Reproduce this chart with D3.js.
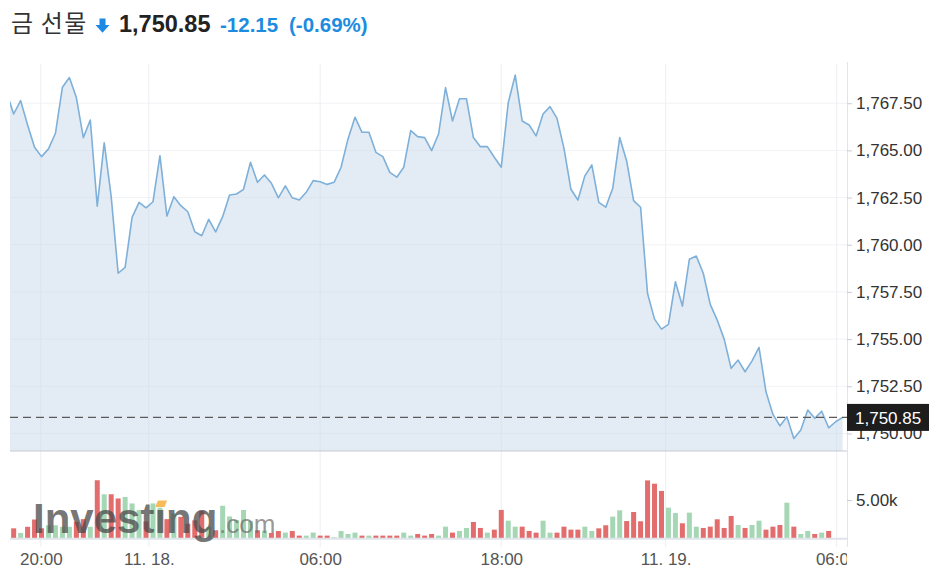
<!DOCTYPE html>
<html>
<head>
<meta charset="utf-8">
<script src="https://cdn.jsdelivr.net/npm/d3@7"></script>
<style>
  body { margin: 0; background: #fff; }
  svg { display: block; font-family: "Liberation Sans", Arial, sans-serif; }
</style>
</head>
<body>
<svg id="chart" width="938" height="577"></svg>
<script>
// 15 min closes, first point sits just left of the visible plot
var prices = [
  1768.05, 1766.93, 1767.64, 1766.35, 1765.17, 1764.67, 1765.08, 1765.91, 1768.35, 1768.86,
  1767.80, 1765.68, 1766.61, 1762.05, 1765.41, 1762.55, 1758.49, 1758.80, 1761.45, 1762.25,
  1761.96, 1762.28, 1764.72, 1761.52, 1762.55, 1762.07, 1761.75, 1760.69, 1760.48, 1761.35,
  1760.68, 1761.49, 1762.64, 1762.69, 1762.94, 1764.37, 1763.31, 1763.70, 1763.26, 1762.49,
  1763.12, 1762.49, 1762.37, 1762.78, 1763.40, 1763.34, 1763.20, 1763.31, 1764.11, 1765.61,
  1766.76, 1765.96, 1765.96, 1764.90, 1764.67, 1763.84, 1763.58, 1764.11, 1766.05, 1765.73,
  1765.68, 1764.99, 1765.87, 1768.33, 1766.56, 1767.74, 1767.74, 1765.68, 1765.20, 1765.20,
  1764.64, 1764.11, 1767.53, 1768.99, 1766.56, 1766.35, 1765.77, 1766.93, 1767.32, 1766.70,
  1765.11, 1762.94, 1762.37, 1763.65, 1764.23, 1762.25, 1761.99, 1762.99, 1765.68, 1764.44,
  1762.34, 1761.99, 1757.42, 1756.06, 1755.53, 1755.78, 1758.04, 1756.75, 1759.23, 1759.40,
  1758.49, 1756.84, 1756.01, 1755.00, 1753.45, 1753.89, 1753.27, 1753.85, 1754.56, 1752.21,
  1751.01, 1750.40, 1750.88, 1749.73, 1750.18, 1751.24, 1750.80, 1751.18, 1750.30, 1750.62,
  1750.85
];

// volume per bar, null where no bar is drawn
var volumes = [
  null, 1300, 700, 1500, 2450, 1300, 1700, 1700, 1500, 1500,
  2150, 2500, 1500, 7580, 5750, 5750, 5200, 5400, 4550, 3680,
  2200, 4550, 4000, 2500, 3250, 2800, 1900, 2350, 3600, 1500,
  1050, 4250, 2850, 2400, 3700, 2250, 1050, 1000, 700, 950,
  750, 950, 350, 350, 750, 350, 350, 130, 950, 560,
  740, 350, 350, 350, 350, 350, 350, 740, 350, 560,
  350, 560, 350, 1520, 740, 960, 1350, 2130, 1350, 740,
  1130, 3700, 2300, 1520, 1520, 960, 740, 2300, 740, 740,
  1520, 1130, 1130, 1520, 960, 1300, 1700, 2830, 3650, 2250,
  3430, 2220, 7560, 7130, 6180, 4000, 3300, 1960, 3350, 1520,
  1350, 1520, 2480, 1350, 2915, 1740, 1350, 1740, 2300, 1130,
  1520, 1740, 4650, 1520, 565, 960, 565, 740, 960, null,
  null
];

var xTickIdx = [4.9, 20.4, 45, 71, 94.6, 119.15];
var xTickLabels = ["20:00", "11. 18.", "06:00", "18:00", "11. 19.", "06:00"];
var yTicks = [1750, 1752.5, 1755, 1757.5, 1760, 1762.5, 1765, 1767.5];
var volTicks = [5000];

var title = "금 선물";
var lastPrice = 1750.85;
var change = -12.15;
var changePct = -0.69;

var left = 10, right = 847,
  priceTop = 64, priceBottom = 451,
  volBase = 538.3;

var svg = d3.select("#chart");
svg.append("rect").attr("width", 938).attr("height", 577).attr("fill", "#fff");

var x = d3.scaleLinear().domain([0, prices.length - 1]).range([6.7, 842.6]);
var y = d3.scaleLinear().domain([1749.07, 1769.58]).range([priceBottom, priceTop]);
var yVol = d3.scaleLinear().domain([0, 5000]).range([volBase, 500]);

// plain hyphen for negatives, like the site
var locale = d3.formatLocale({
  decimal: ".",
  thousands: ",",
  grouping: [3],
  currency: ["$", ""],
  minus: "-",
});
var fmt = locale.format(",.2f");
var fmt2 = locale.format(".2f");

// clip
var defs = svg.append("defs");
defs.append("clipPath").attr("id", "plotClip")
  .append("rect").attr("x", left).attr("y", priceTop)
  .attr("width", right - left).attr("height", priceBottom - priceTop);
defs.append("clipPath").attr("id", "volClip")
  .append("rect").attr("x", left).attr("y", priceBottom)
  .attr("width", right - left).attr("height", volBase - priceBottom);
// used inside the translated x axis group, so y starts at 0
defs.append("clipPath").attr("id", "xLabClip")
  .append("rect").attr("x", 0).attr("y", 0)
  .attr("width", right).attr("height", 577 - volBase);

// grid
svg.append("g")
  .selectAll("line")
  .data(yTicks)
  .enter()
  .append("line")
  .attr("x1", left)
  .attr("x2", right)
  .attr("y1", (d) => y(d))
  .attr("y2", (d) => y(d))
  .attr("stroke", "#f1f2f5");

svg.append("g")
  .selectAll("line")
  .data(xTickIdx)
  .enter()
  .append("line")
  .attr("x1", (d) => x(d))
  .attr("x2", (d) => x(d))
  .attr("y1", priceTop)
  .attr("y2", 547)
  .attr("stroke", "#eceef3");

// price area + line
var pts = prices.map((p, i) => ({ i: i, p: p }));
var area = d3.area().x((d) => x(d.i)).y0(priceBottom).y1((d) => y(d.p));
var line = d3.line().x((d) => x(d.i)).y((d) => y(d.p));

var plot = svg.append("g").attr("clip-path", "url(#plotClip)");
plot.append("path")
  .datum(pts)
  .attr("d", area)
  .attr("fill", "rgba(200,218,233,0.5)");
plot.append("path")
  .datum(pts)
  .attr("d", line)
  .attr("fill", "none")
  .attr("stroke", "#7eb0d9")
  .attr("stroke-width", 1.6)
  .attr("stroke-linejoin", "round");

// last price dashed line
svg.append("line")
  .attr("x1", left)
  .attr("x2", right)
  .attr("y1", y(lastPrice))
  .attr("y2", y(lastPrice))
  .attr("stroke", "#5a5a5a")
  .attr("stroke-width", 1.3)
  .attr("stroke-dasharray", "8,5");

// volume bars, colour from close vs previous close
var bars = volumes
  .map((v, i) => ({ i: i, v: v, up: i > 0 && prices[i] >= prices[i - 1] }))
  .filter((d) => d.v != null);

svg.append("g")
  .attr("clip-path", "url(#volClip)")
  .selectAll("rect")
  .data(bars)
  .enter()
  .append("rect")
  .attr("x", (d) => x(d.i) - 2.5)
  .attr("width", 5)
  .attr("y", (d) => yVol(d.v))
  .attr("height", (d) => volBase - yVol(d.v))
  .attr("fill", (d) => (d.up ? "#a6d7b5" : "#e36c6c"));

// panel lines
svg.append("line")
  .attr("x1", left).attr("x2", right)
  .attr("y1", priceBottom).attr("y2", priceBottom)
  .attr("stroke", "#c6cad3").attr("stroke-width", 1.2);
svg.append("line")
  .attr("x1", left).attr("x2", right)
  .attr("y1", volBase + 0.5).attr("y2", volBase + 0.5)
  .attr("stroke", "#dfe3ea").attr("stroke-width", 2);

// watermark
var wm = svg.append("g").attr("pointer-events", "none");
var wmText = wm.append("text")
  .attr("x", 33)
  .attr("y", 533)
  .attr("font-size", 42)
  .attr("font-weight", "bold")
  .attr("fill", "#4a4a4a")
  .attr("fill-opacity", 0.75)
  .text("Investıng");
wm.append("text")
  .attr("x", 219)
  .attr("y", 533)
  .attr("font-size", 26)
  .attr("fill", "#6a6a6a")
  .attr("fill-opacity", 0.7)
  .text(".com");
var iStart = wmText.node().getStartPositionOfChar(6).x;
var iEnd = wmText.node().getEndPositionOfChar(6).x;
wm.append("path")
  .attr("d", `M${iStart + 1},507 L${iStart + 3.5},500.5 L${iEnd + 1},500.5 L${iEnd - 1.5},507 Z`)
  .attr("fill", "#f7b445")
  .attr("fill-opacity", 0.9);

// right axis
svg.append("line")
  .attr("x1", right + 0.5).attr("x2", right + 0.5)
  .attr("y1", priceTop - 2).attr("y2", 547)
  .attr("stroke", "#e1e4ea");

var yAxis = svg.append("g")
  .attr("transform", `translate(${right},0)`)
  .call(d3.axisRight(y).tickValues(yTicks).tickSize(5).tickPadding(4).tickFormat(fmt));
var volAxis = svg.append("g")
  .attr("transform", `translate(${right},0)`)
  .call(d3.axisRight(yVol).tickValues(volTicks).tickSize(5).tickPadding(4)
    .tickFormat((d) => fmt2(d / 1000) + "k"));
[yAxis, volAxis].forEach(function (g) {
  g.select(".domain").remove();
  g.selectAll(".tick line").attr("stroke", "#c8ccd4");
  g.selectAll(".tick text")
    .attr("fill", "#333")
    .attr("font-size", 17)
    .attr("font-family", '"Liberation Sans", Arial, sans-serif');
});

// last price label (covers the 1,750.00 tick like the site does)
svg.append("rect")
  .attr("x", right)
  .attr("y", y(lastPrice) - 13.5)
  .attr("width", 82)
  .attr("height", 27)
  .attr("fill", "#1d1d1d");
svg.append("text")
  .attr("x", right + 8)
  .attr("y", y(lastPrice))
  .attr("dy", "0.36em")
  .attr("fill", "#fff")
  .attr("font-size", 17)
  .text(fmt(lastPrice));

// x axis
var xAxis = svg.append("g")
  .attr("transform", `translate(0,${volBase})`)
  .attr("clip-path", "url(#xLabClip)")
  .call(d3.axisBottom(x).tickValues(xTickIdx).tickSize(0).tickPadding(15)
    .tickFormat((d, i) => xTickLabels[i]));
xAxis.select(".domain").remove();
xAxis.selectAll(".tick text")
  .attr("fill", "#555")
  .attr("font-size", 17)
  .attr("font-family", '"Liberation Sans", Arial, sans-serif');

// header
var head = svg.append("g");
head.append("text")
  .attr("x", 11)
  .attr("y", 32)
  .attr("font-size", 24)
  .attr("letter-spacing", 1.2)
  .attr("font-family", '"Noto Sans CJK KR", sans-serif')
  .attr("fill", "#333")
  .text(title);
head.append("path")
  .attr("d", "M99.5,18.5 H105.5 V25 H109.5 L102.5,32.7 L95.5,25 H99.5 Z")
  .attr("fill", "#1e88e5");
head.append("text")
  .attr("x", 119)
  .attr("y", 32)
  .attr("font-size", 23.5)
  .attr("font-weight", "bold")
  .attr("fill", "#222")
  .text(fmt(lastPrice));
head.append("text")
  .attr("x", 220)
  .attr("y", 32)
  .attr("font-size", 20.5)
  .attr("font-weight", "bold")
  .attr("fill", "#1c8ce0")
  .text(fmt2(change));
head.append("text")
  .attr("x", 289)
  .attr("y", 32)
  .attr("font-size", 20.5)
  .attr("font-weight", "bold")
  .attr("fill", "#1c8ce0")
  .text("(" + fmt2(changePct) + "%)");
</script>
</body>
</html>
